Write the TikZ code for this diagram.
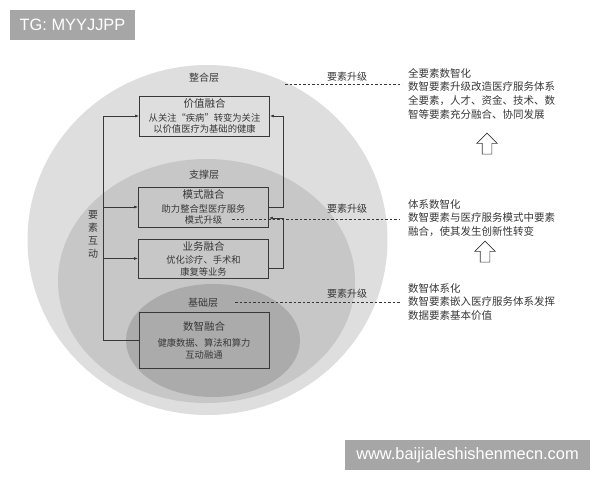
\documentclass[tikz,border=0pt]{standalone}
\usepackage{fontspec}
\setmainfont{Liberation Sans}
\newfontfamily\cjk{Noto Sans CJK SC}
\usetikzlibrary{arrows.meta,shapes.arrows}
\definecolor{ringout}{gray}{0.87}
\definecolor{ringmid}{gray}{0.78}
\definecolor{ringin}{gray}{0.67}
\definecolor{ink}{gray}{0.22}
\definecolor{tagfill}{gray}{0.65}
\newcommand\boxhead[1]{{\fontsize{10.5}{11.5}\selectfont #1}}
\tikzset{
	fusion/.style={draw=ink, line width=0.9pt, minimum width=130pt, align=center, text=ink, inner sep=0pt, font=\cjk\fontsize{9.3}{11.5}\selectfont},
	layer/.style={text=ink, font=\cjk\fontsize{10}{12}\selectfont},
	note/.style={text=ink, align=left, anchor=north west, inner sep=0pt, font=\cjk\fontsize{10.5}{13.8}\selectfont},
	link/.style={draw=ink, line width=0.7pt, -{Latex[length=4pt,width=3pt]}},
	upgrade/.style={draw=ink, line width=0.6pt, dash pattern=on 2.5pt off 2pt},
	hollow/.style={single arrow, draw=ink, line width=0.6pt, fill=white, shape border rotate=90, minimum height=21pt, minimum width=20pt, inner sep=4.5pt, single arrow head extend=5.5pt},
	tag/.style={fill=tagfill, text=white, inner sep=0pt, minimum height=30pt, font=\fontsize{16.4}{18}\selectfont}
}

\begin{document}
\begin{tikzpicture}[x=1pt, y=-1pt]
			%%%%% START %%%%%
			\useasboundingbox (0,0) rectangle (600,480);
			\fill[white] (0,0) rectangle (600,480);
			
			% three layers
			\fill[ringout] (207.5,240) ellipse (180 and 175);
			\fill[ringmid] (206.5,281) ellipse (148.5 and 122);
			\fill[ringin] (213,340.5) ellipse (87 and 56.5);
			
			\node[layer] (integrate) at (204,78) {整合层};
			\node[layer] (support) at (204,175) {支撑层};
			\node[layer] (base) at (203,303) {基础层};
			
			\node[fusion, minimum height=40pt] (value) at (204.5,116) {\boxhead{价值融合}\\[2pt]从关注“疾病”转变为关注\\以价值医疗为基础的健康};
			\node[fusion, minimum height=40pt] (mode) at (203.5,207) {\boxhead{模式融合}\\[2pt]助力整合型医疗服务\\模式升级};
			\node[fusion, minimum height=39pt] (business) at (203.5,258.5) {\boxhead{业务融合}\\[2pt]优化诊疗、手术和\\康复等业务};
			\node[fusion, minimum height=56pt] (data) at (204,340) {\boxhead{数智融合}\\[5pt]健康数据、算法和算力\\互动融通};
			
			% element interaction
			\node[layer, align=center, font=\cjk\fontsize{10}{13}\selectfont] (mutual) at (93,234) {要\\素\\互\\动};
			\coordinate (spine) at (103,116);
			\draw[link] (data.west) -| (spine) -- (value.west);
			\draw[link] (spine |- mode.west) -- (mode.west);
			\draw[link] (spine |- business.west) -- (business.west);
			
			\draw[link] (mode.east) -- ++(14,0) |- (value.east);
			\draw[link] ([yshift=-10pt]business.east) -- ++(14,0) |- ([yshift=-11pt]mode.east);
			
			% element upgrade
			\coordinate (up1a) at (285,84);
			\coordinate (up1b) at (402,84);
			\coordinate (up2a) at (232,219);
			\coordinate (up2b) at (400,219);
			\coordinate (up3a) at (235,302);
			\coordinate (up3b) at (400,302);
			\draw[upgrade] (up1a) -- (up1b);
			\draw[upgrade] (up2a) -- (up2b);
			\draw[upgrade] (up3a) -- (up3b);
			\node[layer] (lift1) at (347,77) {要素升级};
			\node[layer] (lift2) at (347,209) {要素升级};
			\node[layer] (lift3) at (347,294) {要素升级};
			
			\node[note] (whole) at (408,68) {全要素数智化\\数智要素升级改造医疗服务体系\\全要素，人才、资金、技术、数\\智等要素充分融合、协同发展};
			\node[note] (system) at (408,199) {体系数智化\\数智要素与医疗服务模式中要素\\融合，使其发生创新性转变};
			\node[note] (embed) at (408,283) {数智体系化\\数智要素嵌入医疗服务体系发挥\\数据要素基本价值};
			
			\node[hollow] (rise1) at (487,146) {};
			\node[hollow] (rise2) at (485,254) {};
			
			% marks
			\node[tag, minimum width=125pt] (tg) at (72.5,25) {TG: MYYJJPP};
			\node[tag, minimum width=245pt] (site) at (467.5,455) {www.baijialeshishenmecn.com};
			%%%%% END %%%%%
\end{tikzpicture}
\end{document}
